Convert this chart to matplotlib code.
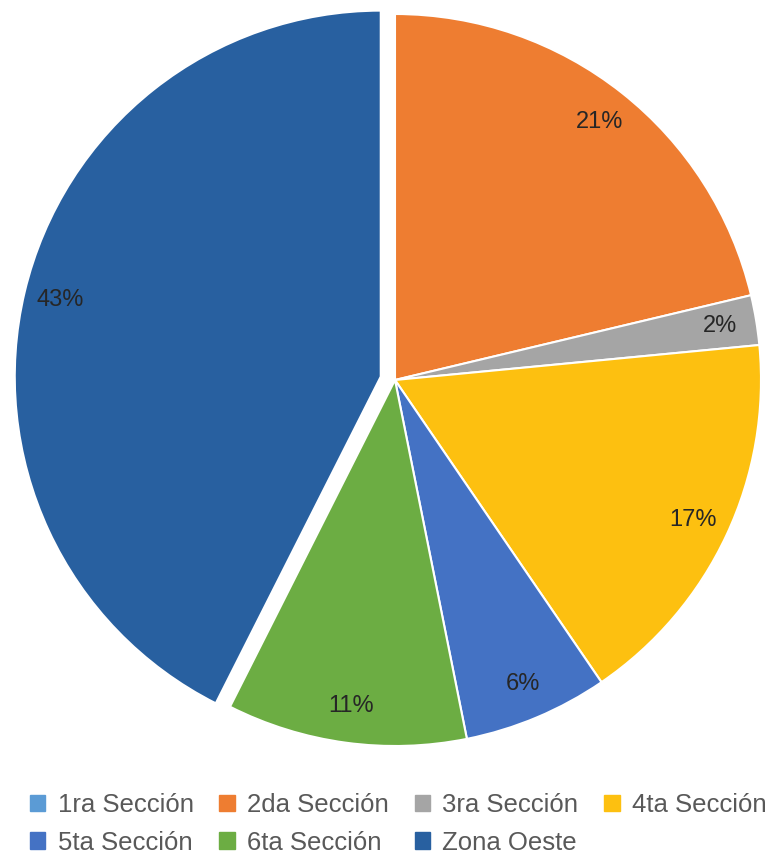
import matplotlib
matplotlib.use("Agg")
import matplotlib.pyplot as plt
from matplotlib.patches import Patch

categories = ["1ra Sección", "2da Sección", "3ra Sección", "4ta Sección",
              "5ta Sección", "6ta Sección", "Zona Oeste"]
values = [0.0, 21.3, 2.2, 17.0, 6.4, 10.6, 42.6]
colors = ["#5B9BD5", "#EE7D31", "#A5A5A5", "#FDC010", "#4472C4", "#6CAD43", "#2860A0"]
explode = [0, 0, 0, 0, 0, 0, 0.04]

W, H = 767, 856
fig = plt.figure(figsize=(W / 100, H / 100), dpi=100)
ax = fig.add_axes([0, 0, 1, 1])

cx, cy, R = 395, 856 - 380, 366

def fmt(p):
    return "" if p < 0.5 else f"{p:.0f}%"

wedges, texts, autotexts = ax.pie(
    values, colors=colors, explode=explode, startangle=90, counterclock=False,
    autopct=fmt, pctdistance=0.9,
    wedgeprops=dict(edgecolor="white", linewidth=1.5),
    textprops=dict(fontsize=17, color="#262626", family="Liberation Sans"))

ax.set_aspect("auto")
ax.set_xlim((0 - cx) / R, (W - cx) / R)
ax.set_ylim((0 - cy) / R, (H - cy) / R)
ax.axis("off")

handles = [Patch(facecolor=c, edgecolor=c) for c in colors]
order = [0, 4, 1, 5, 2, 6, 3]
leg = fig.legend([handles[i] for i in order], [categories[i] for i in order],
                 ncol=4, loc="upper left", bbox_to_anchor=(30 / W, 1 - 793 / H),
                 borderaxespad=0, borderpad=0,
                 frameon=False, handlelength=0.6, handleheight=0.6,
                 handletextpad=0.48, columnspacing=1.0, labelspacing=0.53,
                 prop=dict(family="Liberation Sans", size=18.5))
for t in leg.get_texts():
    t.set_color("#595959")

fig.savefig("out.png", dpi=100)
